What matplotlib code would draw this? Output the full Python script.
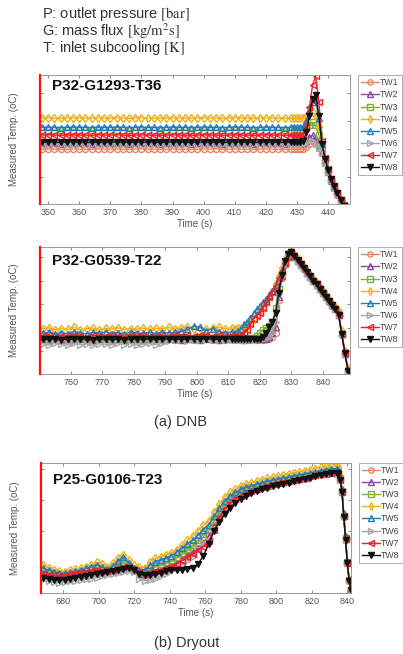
"""
Wall temperature traces at CHF: DNB (two runs) and dryout (one run).
TW1..TW8 thermocouples, MATLAB-style panels stacked in one figure.
"""

import numpy as np
import matplotlib.pyplot as plt

plt.rcParams['font.family'] = ['Liberation Sans', 'DejaVu Sans']
plt.rcParams['mathtext.fontset'] = 'stix'

labels = ['TW1', 'TW2', 'TW3', 'TW4', 'TW5', 'TW6', 'TW7', 'TW8']
colors = ['#E8855A', '#8E44AD', '#7DAF3B', '#EDB120', '#1F7DC0', '#A8A8A8', '#F01E28', '#111111']
markers = ['o', '^', 's', 'd', '^', '>', '<', 'v']

# ---------------- P32-G1293-T36 (DNB) ----------------
dnb1_time = np.concatenate([np.arange(348, 429, 2), np.arange(429, 447, 1)])
dnb1_tw1 = [300, 301, 300, 299, 300, 301, 300, 300, 299, 301,
            300, 300, 301, 300, 299, 300, 301, 300, 300, 299,
            300, 301, 300, 300, 299, 300, 301, 300, 302, 299,
            300, 301, 300, 300, 299, 300, 301, 300, 300, 299,
            300,
            300, 300, 300, 301, 306, 318, 330, 325, 305, 285, 250, 218, 186, 162, 138, 114, 94, 78]
dnb1_tw2 = [321, 322, 321, 320, 321, 322, 321, 321, 320, 322,
            321, 321, 322, 321, 320, 321, 322, 321, 321, 320,
            321, 322, 321, 321, 320, 321, 322, 321, 321, 320,
            321, 322, 321, 321, 320, 321, 322, 321, 321, 320,
            321,
            321, 321, 321, 322, 328, 342, 350, 335, 315, 290, 255, 220, 188, 164, 140, 116, 96, 80]
dnb1_tw3 = [368, 369, 368, 367, 368, 369, 368, 368, 367, 369,
            368, 368, 369, 368, 367, 368, 369, 368, 368, 367,
            368, 369, 368, 368, 367, 368, 369, 368, 368, 367,
            368, 369, 368, 368, 367, 368, 369, 368, 368, 367,
            368,
            368, 368, 368, 369, 375, 388, 396, 385, 350, 305, 258, 222, 190, 166, 142, 118, 98, 82]
dnb1_tw4 = [411, 412, 411, 410, 411, 412, 411, 411, 410, 412,
            411, 411, 412, 411, 410, 411, 412, 411, 411, 410,
            411, 412, 411, 411, 410, 411, 412, 411, 411, 410,
            411, 412, 411, 411, 410, 411, 412, 411, 411, 410,
            411,
            411, 411, 411, 412, 418, 428, 432, 420, 380, 315, 262, 225, 193, 168, 144, 120, 100, 84]
dnb1_tw5 = [378, 379, 378, 377, 378, 379, 378, 378, 377, 379,
            378, 378, 379, 378, 377, 378, 379, 378, 378, 377,
            378, 379, 378, 378, 377, 378, 379, 378, 378, 377,
            378, 379, 378, 378, 377, 378, 379, 378, 378, 377,
            378,
            378, 378, 378, 380, 400, 440, 470, 475, 410, 320, 265, 228, 195, 170, 146, 122, 102, 86]
dnb1_tw6 = [318, 319, 318, 317, 318, 319, 318, 318, 317, 319,
            318, 318, 319, 318, 317, 318, 319, 318, 318, 317,
            318, 319, 318, 318, 317, 318, 319, 318, 318, 317,
            318, 319, 318, 318, 317, 318, 319, 318, 318, 317,
            318,
            318, 318, 318, 319, 322, 330, 330, 320, 305, 285, 252, 218, 187, 163, 139, 115, 95, 79]
dnb1_tw7 = [350, 351, 350, 349, 350, 351, 350, 350, 349, 351,
            350, 350, 351, 350, 349, 350, 351, 350, 350, 349,
            350, 351, 350, 350, 349, 350, 351, 350, 350, 349,
            350, 351, 350, 350, 349, 350, 351, 350, 350, 349,
            350,
            350, 350, 350, 352, 380, 450, 530, 560, 470, 330, 270, 230, 195, 170, 145, 120, 100, 85]
dnb1_tw8 = [325, 326, 325, 324, 325, 326, 325, 325, 324, 326,
            325, 325, 326, 325, 324, 325, 326, 325, 325, 324,
            325, 326, 325, 325, 324, 325, 326, 325, 325, 324,
            325, 326, 325, 325, 324, 325, 326, 325, 325, 324,
            325,
            325, 325, 325, 328, 360, 420, 480, 493, 420, 320, 265, 225, 192, 168, 142, 118, 98, 82]

# ---------------- P32-G0539-T22 (DNB) ----------------
dnb2_time = np.concatenate([np.arange(751, 812, 2), np.arange(812, 849, 1)])
dnb2_tw1 = [375, 374, 376, 373, 375, 374, 376, 375, 373, 375,
            376, 374, 375, 373, 376, 375, 374, 376, 375, 374,
            376, 375, 374, 376, 375, 374, 376, 375, 374, 375,
            376,
            375, 376, 375, 374, 376, 375, 376, 375, 376, 375, 376, 377, 385, 400, 520, 600, 648, 674,
            689, 675, 660, 646, 632, 617, 602, 587, 573, 558, 543, 528, 513, 498, 485, 463, 393, 323, 261]
dnb2_tw2 = [376, 375, 377, 374, 376, 375, 377, 376, 374, 376,
            377, 375, 376, 374, 377, 376, 375, 377, 376, 375,
            377, 376, 375, 377, 376, 375, 377, 376, 375, 376,
            377,
            376, 377, 376, 375, 377, 376, 377, 376, 377, 376, 378, 385, 398, 420, 530, 605, 650, 675,
            690, 676, 661, 647, 633, 618, 603, 588, 574, 559, 544, 529, 514, 499, 486, 464, 394, 324, 262]
dnb2_tw3 = [380, 382, 379, 381, 380, 383, 380, 378, 381, 380,
            382, 379, 381, 380, 383, 380, 381, 379, 382, 381,
            380, 383, 381, 382, 380, 383, 381, 380, 382, 381,
            380,
            380, 381, 380, 382, 381, 382, 381, 388, 400, 410, 418, 425, 440, 490, 560, 610, 650, 675,
            689, 675, 661, 647, 633, 618, 603, 588, 574, 559, 544, 529, 514, 499, 486, 464, 395, 325, 263]
dnb2_tw4 = [413, 418, 410, 415, 412, 419, 411, 414, 417, 410,
            416, 413, 418, 411, 415, 413, 417, 412, 416, 414,
            419, 413, 417, 420, 415, 418, 412, 416, 419, 414,
            417,
            415, 418, 416, 420, 425, 435, 450, 465, 480, 495, 512, 530, 548, 575, 605, 635, 662, 690,
            700, 684, 669, 654, 639, 624, 609, 594, 580, 565, 550, 535, 520, 505, 492, 478, 405, 335, 272]
dnb2_tw5 = [398, 402, 395, 400, 397, 404, 399, 396, 401, 398,
            403, 397, 400, 396, 402, 399, 398, 401, 397, 403,
            399, 402, 405, 412, 424, 420, 408, 415, 404, 400,
            403,
            400, 405, 412, 430, 440, 455, 470, 485, 498, 510, 522, 535, 550, 572, 600, 628, 655, 678,
            692, 678, 664, 650, 636, 621, 606, 591, 577, 562, 547, 532, 517, 502, 489, 470, 398, 328, 266]
dnb2_tw6 = [360, 356, 362, 358, 355, 361, 357, 359, 354, 360,
            358, 356, 362, 357, 360, 355, 359, 361, 357, 362,
            370, 372, 374, 371, 375, 373, 372, 374, 373, 375,
            374,
            374, 375, 374, 373, 375, 374, 375, 374, 376, 378, 380, 385, 400, 440, 540, 605, 652, 676,
            690, 676, 661, 647, 633, 618, 603, 588, 574, 559, 544, 529, 514, 499, 486, 464, 394, 324, 262]
dnb2_tw7 = [388, 390, 386, 389, 387, 391, 388, 386, 390, 387,
            389, 392, 388, 386, 390, 388, 391, 387, 389, 390,
            388, 392, 389, 391, 388, 390, 393, 389, 391, 388,
            390,
            388, 389, 392, 398, 410, 430, 450, 462, 472, 490, 510, 528, 548, 570, 598, 625, 652, 676,
            690, 676, 662, 648, 634, 619, 604, 589, 575, 560, 545, 530, 515, 500, 487, 466, 396, 326, 264]
dnb2_tw8 = [377, 376, 378, 375, 377, 376, 378, 377, 375, 377,
            378, 376, 377, 375, 378, 377, 376, 378, 377, 376,
            378, 377, 376, 378, 377, 376, 378, 377, 376, 377,
            378,
            377, 378, 377, 376, 378, 377, 378, 377, 378, 385, 400, 420, 440, 470, 545, 610, 660, 685,
            692, 677, 662, 648, 634, 619, 604, 589, 575, 560, 545, 530, 515, 500, 487, 465, 396, 326, 262]

# ---------------- P25-G0106-T23 (Dryout) ----------------
dry_time = np.concatenate([np.arange(669, 835, 3), np.arange(835, 843, 1)])
dry_tw1 = [328, 324, 320, 318, 318, 322, 326, 330,
           334, 338, 344, 340, 334, 342, 356, 365,
           352, 338, 328, 326, 340, 350, 356, 364,
           372, 384, 398, 412, 426, 445, 468, 490,
           525, 560, 590, 612, 626, 638, 646, 653,
           659, 665, 670, 675, 680, 684, 688, 692,
           696, 700, 704, 708, 712, 716, 719, 722,
           716, 693, 645, 550, 460, 369, 301, 262]
dry_tw2 = [318, 315, 312, 310, 312, 315, 318, 320,
           323, 327, 330, 330, 330, 335, 342, 348,
           346, 338, 322, 318, 322, 330, 338, 346,
           355, 368, 382, 396, 408, 425, 445, 470,
           510, 548, 580, 602, 618, 630, 640, 648,
           655, 661, 667, 672, 677, 681, 686, 690,
           694, 698, 702, 706, 710, 714, 717, 720,
           714, 692, 643, 548, 458, 368, 300, 262]
dry_tw3 = [335, 330, 326, 322, 320, 324, 328, 332,
           336, 342, 348, 342, 335, 345, 360, 370,
           355, 340, 332, 330, 345, 355, 362, 370,
           378, 390, 405, 420, 435, 455, 478, 500,
           535, 568, 598, 618, 632, 644, 652, 658,
           664, 670, 675, 680, 684, 688, 692, 696,
           700, 704, 708, 712, 716, 720, 723, 725,
           720, 695, 645, 550, 462, 370, 302, 263]
dry_tw4 = [360, 348, 340, 335, 332, 338, 342, 346,
           352, 360, 369, 362, 352, 365, 385, 396,
           378, 358, 350, 348, 372, 385, 390, 398,
           406, 418, 435, 454, 470, 492, 512, 530,
           565, 595, 622, 640, 652, 665, 672, 678,
           684, 690, 695, 700, 704, 708, 712, 716,
           720, 725, 729, 733, 738, 742, 746, 748,
           740, 705, 650, 545, 455, 368, 300, 262]
dry_tw5 = [345, 338, 332, 328, 326, 330, 335, 340,
           345, 352, 360, 350, 342, 355, 375, 388,
           368, 348, 340, 338, 360, 372, 378, 386,
           395, 408, 424, 440, 455, 475, 495, 515,
           548, 580, 608, 627, 640, 652, 660, 666,
           672, 678, 683, 688, 692, 696, 700, 704,
           708, 712, 716, 720, 724, 728, 731, 733,
           728, 700, 655, 560, 470, 375, 305, 265]
dry_tw6 = [300, 296, 292, 290, 292, 295, 298, 300,
           303, 306, 310, 314, 318, 322, 326, 330,
           335, 330, 305, 298, 300, 305, 315, 325,
           335, 345, 360, 375, 390, 420, 445, 450,
           500, 535, 565, 588, 606, 620, 632, 640,
           648, 654, 660, 666, 671, 676, 680, 685,
           690, 694, 699, 703, 707, 711, 715, 717,
           711, 688, 642, 547, 457, 366, 299, 261]
dry_tw7 = [322, 320, 318, 316, 318, 322, 326, 330,
           333, 336, 338, 336, 334, 340, 348, 352,
           350, 340, 330, 325, 330, 335, 340, 345,
           352, 362, 375, 388, 400, 415, 430, 452,
           495, 540, 575, 598, 615, 628, 638, 646,
           653, 660, 666, 672, 677, 682, 686, 690,
           694, 698, 702, 706, 710, 713, 716, 718,
           712, 690, 640, 548, 458, 368, 300, 262]
dry_tw8 = [308, 305, 302, 300, 302, 306, 310, 312,
           316, 320, 323, 326, 330, 334, 338, 342,
           345, 340, 325, 318, 319, 322, 328, 334,
           338, 340, 340, 342, 348, 362, 395, 440,
           490, 525, 555, 580, 600, 616, 628, 638,
           645, 652, 658, 664, 668, 674, 678, 684,
           688, 692, 698, 702, 706, 710, 714, 716,
           710, 688, 640, 545, 455, 365, 298, 260]

panels = [
    ("P32-G1293-T36", dnb1_time,
     [dnb1_tw1, dnb1_tw2, dnb1_tw3, dnb1_tw4, dnb1_tw5, dnb1_tw6, dnb1_tw7, dnb1_tw8],
     (347.4, 447), (104, 564), np.arange(350, 441, 10), [200, 300, 400, 500],
     [0.0993, 0.688, 0.769, 0.197], 0.915),
    ("P32-G0539-T22", dnb2_time,
     [dnb2_tw1, dnb2_tw2, dnb2_tw3, dnb2_tw4, dnb2_tw5, dnb2_tw6, dnb2_tw7, dnb2_tw8],
     (750.2, 848.6), (250, 710), np.arange(760, 841, 10), [333, 418, 503, 588, 673],
     [0.0993, 0.428, 0.769, 0.194], 0.89),
    ("P25-G0106-T23", dry_time,
     [dry_tw1, dry_tw2, dry_tw3, dry_tw4, dry_tw5, dry_tw6, dry_tw7, dry_tw8],
     (667.6, 842), (250, 755), np.arange(680, 841, 20), [369, 490, 611, 732],
     [0.1017, 0.0933, 0.769, 0.199], 0.87),
]

fig = plt.figure(figsize=(4.03, 6.54), dpi=100)

for name, t, series, xlim, ylim, xticks, yticks, rect, ty in panels:
    ax = fig.add_axes(rect)
    for vals, lab, c, m in zip(series, labels, colors, markers):
        face = c if lab == 'TW8' else 'none'
        ax.plot(t, vals, color=c, marker=m, markersize=4.3, markerfacecolor=face,
                markeredgewidth=1.0, linewidth=1.0, label=lab)
    ax.set_xlim(*xlim)
    ax.set_ylim(*ylim)
    ax.axvline(xlim[0], color='#FF1010', linewidth=1.6, clip_on=False, zorder=5)
    ax.set_xticks(xticks)
    ax.set_yticks(yticks)
    ax.set_yticklabels([])
    ax.tick_params(direction='in', length=2.5, width=0.6, colors='#777777',
                   labelcolor='#555555', labelsize=6.5, top=True, right=True, pad=3)
    for s in ax.spines.values():
        s.set_color('#999999')
        s.set_linewidth(0.7)
    ax.set_xlabel('Time (s)', fontsize=7, color='#555555', labelpad=1)
    ax.set_ylabel('Measured Temp. (oC)', fontsize=7, color='#555555', labelpad=12)
    ax.text(0.039, ty, name, transform=ax.transAxes, fontsize=11, fontweight='bold',
            color='#111111', va='center', ha='left')
    leg = ax.legend(loc='upper left', bbox_to_anchor=(1.026, 1.0), fontsize=6.3,
                    frameon=True, fancybox=False, borderpad=0.35, labelspacing=0.36,
                    handlelength=2.0, handletextpad=0.2, borderaxespad=0)
    leg.get_frame().set_edgecolor('#888888')
    leg.get_frame().set_linewidth(0.6)
    for h in leg.get_lines():
        h.set_markersize(3.8)
    for txt in leg.get_texts():
        txt.set_color('#444444')

fig.text(0.104, 0.979, r'P: outlet pressure $[\mathrm{bar}]$', fontsize=10.5, color='#333333', va='center')
fig.text(0.104, 0.953, r'G: mass flux $[\mathrm{kg/m^2s}]$', fontsize=10.5, color='#333333', va='center')
fig.text(0.104, 0.927, r'T: inlet subcooling $[\mathrm{K}]$', fontsize=10.5, color='#333333', va='center')

fig.text(0.447, 0.355, '(a) DNB', fontsize=10.5, color='#333333', ha='center', va='center')
fig.text(0.464, 0.017, '(b) Dryout', fontsize=10.5, color='#333333', ha='center', va='center')

fig.savefig('out.png', dpi=100)
